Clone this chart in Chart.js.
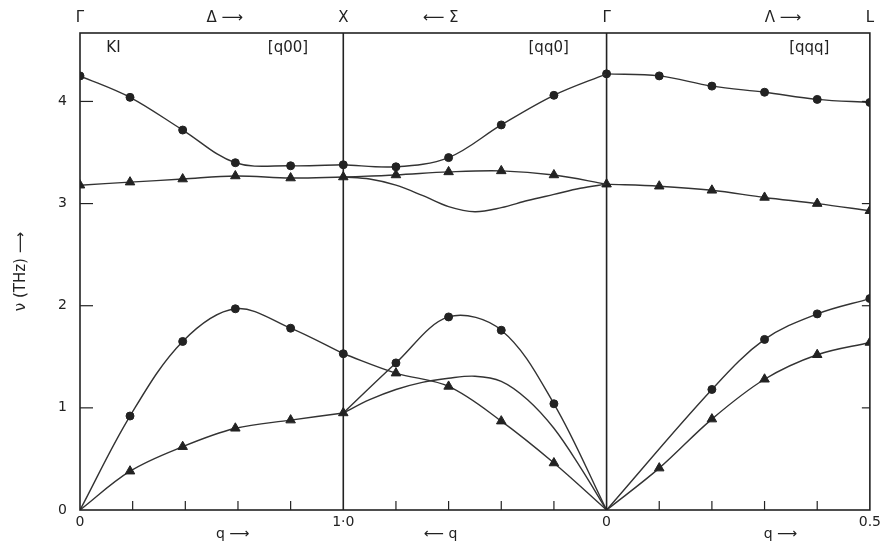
<!DOCTYPE html>
<html>
<head>
<meta charset="utf-8">
<script src="https://cdn.jsdelivr.net/npm/chart.js@4"></script>
<style>
  html, body { margin: 0; background: #fff; }
  #wrap { width: 885px; height: 543px; }
</style>
</head>
<body>
<div id="wrap"><canvas id="chart"></canvas></div>
<script>
// KI phonon dispersion: Γ–X [q00], X–Γ [qq0], Γ–L [qqq]
const qDelta = [0, 0.19, 0.39, 0.59, 0.8, 1.0];
const deltaLO = [4.25, 4.04, 3.72, 3.40, 3.37, 3.38];
const deltaTO = [3.18, 3.21, 3.24, 3.27, 3.25, 3.26];
const deltaLA = [0, 0.92, 1.65, 1.97, 1.78, 1.53];
const deltaTA = [0, 0.38, 0.62, 0.80, 0.88, 0.95];

const qSigma = [1.0, 0.8, 0.6, 0.4, 0.2, 0];
const sigmaLO = [3.38, 3.36, 3.45, 3.77, 4.06, 4.27];
const sigmaTO1 = [3.26, 3.28, 3.31, 3.32, 3.28, 3.19];
const sigmaLA = [0.95, 1.44, 1.89, 1.76, 1.04, 0];
const sigmaTA1 = [1.53, 1.34, 1.21, 0.87, 0.46, 0];

// Σ branches drawn as curves only (no measured points)
const qSigmaFine = [1.0, 0.9, 0.8, 0.7, 0.6, 0.5, 0.4, 0.3, 0.2, 0.1, 0];
const sigmaTO2 = [3.26, 3.24, 3.18, 3.08, 2.97, 2.92, 2.96, 3.03, 3.09, 3.15, 3.19];
const sigmaTA2 = [0.95, 1.08, 1.18, 1.25, 1.29, 1.31, 1.26, 1.08, 0.8, 0.42, 0];

const qLambda = [0, 0.1, 0.2, 0.3, 0.4, 0.5];
const lambdaLO = [4.27, 4.25, 4.15, 4.09, 4.02, 3.99];
const lambdaTO = [3.19, 3.17, 3.13, 3.06, 3.00, 2.93];
const lambdaLA = [0, null, 1.18, 1.67, 1.92, 2.07];
const lambdaTA = [0, 0.41, 0.89, 1.28, 1.52, 1.64];

const yTicks = [0, 1, 2, 3, 4];
const xLabelPos = [0, 1, 2, 3];
const xLabels = ['0', '1·0', '0', '0.5'];
const topPos = [0, 0.55, 1, 1.37, 2, 2.67, 3];
const topLabels = ['Γ', 'Δ ⟶', 'X', '⟵ Σ', 'Γ', 'Λ ⟶', 'L'];

const ink = '#222';
const font = 'DejaVu Sans';

// section 0: Γ→X, 1: X→Γ (q runs backwards), 2: Γ→L (q up to 0.5)
const toU = [q => q, q => 2 - q, q => 2 + 2 * q];

function branch(sec, qs, vals, marker) {
  const data = [];
  qs.forEach((q, i) => {
    if (vals[i] !== null) data.push({ x: toU[sec](q), y: vals[i] });
  });
  const r = marker === 'triangle' ? 5.5 : 4;
  return {
    data,
    borderColor: '#333',
    borderWidth: 1.4,
    tension: 0.35,
    pointStyle: marker || 'circle',
    pointBackgroundColor: ink,
    pointBorderColor: ink,
    pointBorderWidth: 1,
    pointRadius: c => {
      if (!marker) return 0;
      const p = c.raw;
      if (p && p.y === 0) return 0;
      if (sec === 1 && (c.dataIndex === 0 || c.dataIndex === data.length - 1)) return 0;
      return r;
    },
    fill: false
  };
}

const datasets = [
  branch(0, qDelta, deltaLO, 'circle'),
  branch(0, qDelta, deltaTO, 'triangle'),
  branch(0, qDelta, deltaLA, 'circle'),
  branch(0, qDelta, deltaTA, 'triangle'),
  branch(1, qSigma, sigmaLO, 'circle'),
  branch(1, qSigma, sigmaTO1, 'triangle'),
  branch(1, qSigma, sigmaLA, 'circle'),
  branch(1, qSigma, sigmaTA1, 'triangle'),
  branch(1, qSigmaFine, sigmaTO2, null),
  branch(1, qSigmaFine, sigmaTA2, null),
  branch(2, qLambda, lambdaLO, 'circle'),
  branch(2, qLambda, lambdaTO, 'triangle'),
  branch(2, qLambda, lambdaLA, 'circle'),
  branch(2, qLambda, lambdaTA, 'triangle')
];

const frame = {
  id: 'frame',
  afterDraw(chart) {
    const { ctx, chartArea: a, scales: { x, y } } = chart;
    const line = (x1, y1, x2, y2) => {
      ctx.beginPath(); ctx.moveTo(x1, y1); ctx.lineTo(x2, y2); ctx.stroke();
    };
    ctx.save();
    ctx.strokeStyle = ink;
    ctx.lineWidth = 1.6;
    ctx.strokeRect(a.left, a.top, a.right - a.left, a.bottom - a.top);
    [1, 2].forEach(u => {
      const px = x.getPixelForValue(u);
      line(px, a.top, px, a.bottom);
    });
    ctx.lineWidth = 1.2;
    for (let k = 1; k < 15; k++) {
      if (k % 5 === 0) continue;
      const px = x.getPixelForValue(k * 0.2);
      line(px, a.bottom, px, a.bottom - 9);
    }
    [1, 2, 3, 4].forEach(v => {
      const py = y.getPixelForValue(v);
      line(a.left, py, a.left + 13, py);
      line(a.right, py, a.right - 8, py);
    });

    ctx.fillStyle = ink;
    ctx.font = '15px "' + font + '"';
    ctx.textBaseline = 'middle';
    ctx.textAlign = 'left';
    ctx.fillText('KI', x.getPixelForValue(0.1), a.top + 15);
    ctx.textAlign = 'center';
    ctx.fillText('[q00]', x.getPixelForValue(0.79), a.top + 15);
    ctx.fillText('[qq0]', x.getPixelForValue(1.78), a.top + 15);
    ctx.fillText('[qqq]', x.getPixelForValue(2.77), a.top + 15);

    ctx.font = '14px "' + font + '"';
    ctx.fillText('q ⟶', x.getPixelForValue(0.58), a.bottom + 24);
    ctx.fillText('⟵ q', x.getPixelForValue(1.37), a.bottom + 24);
    ctx.fillText('q ⟶', x.getPixelForValue(2.66), a.bottom + 24);
    ctx.restore();
  }
};

new Chart(document.getElementById('chart'), {
  type: 'line',
  data: { datasets },
  plugins: [frame],
  options: {
    responsive: true,
    maintainAspectRatio: false,
    animation: false,
    layout: { padding: { left: 0, right: 12, top: 0, bottom: 0 } },
    plugins: {
      legend: { display: false },
      tooltip: { enabled: false }
    },
    scales: {
      x: {
        type: 'linear',
        min: 0,
        max: 3,
        afterFit: s => { s.height = 33; },
        afterBuildTicks: s => { s.ticks = xLabelPos.map(v => ({ value: v })); },
        ticks: {
          autoSkip: false,
          maxRotation: 0,
          padding: 4,
          color: ink,
          font: { family: font, size: 14 },
          callback: (v, i) => xLabels[i]
        },
        grid: { display: false, drawTicks: false },
        border: { display: false }
      },
      xTop: {
        type: 'linear',
        position: 'top',
        min: 0,
        max: 3,
        afterFit: s => { s.height = 33; },
        afterBuildTicks: s => { s.ticks = topPos.map(v => ({ value: v })); },
        ticks: {
          autoSkip: false,
          maxRotation: 0,
          padding: 6,
          color: ink,
          font: { family: font, size: 15 },
          callback: (v, i) => topLabels[i]
        },
        grid: { display: false, drawTicks: false },
        border: { display: false }
      },
      y: {
        min: 0,
        max: 4.67,
        afterFit: s => { s.width = 80; },
        afterBuildTicks: s => { s.ticks = yTicks.map(v => ({ value: v })); },
        title: {
          display: true,
          text: 'ν (THz) ⟶',
          color: ink,
          font: { family: font, size: 15 },
          padding: { top: 12, bottom: 0 }
        },
        ticks: {
          padding: 13,
          color: ink,
          font: { family: font, size: 14 }
        },
        grid: { display: false, drawTicks: false },
        border: { display: false }
      }
    }
  }
});
</script>
</body>
</html>
